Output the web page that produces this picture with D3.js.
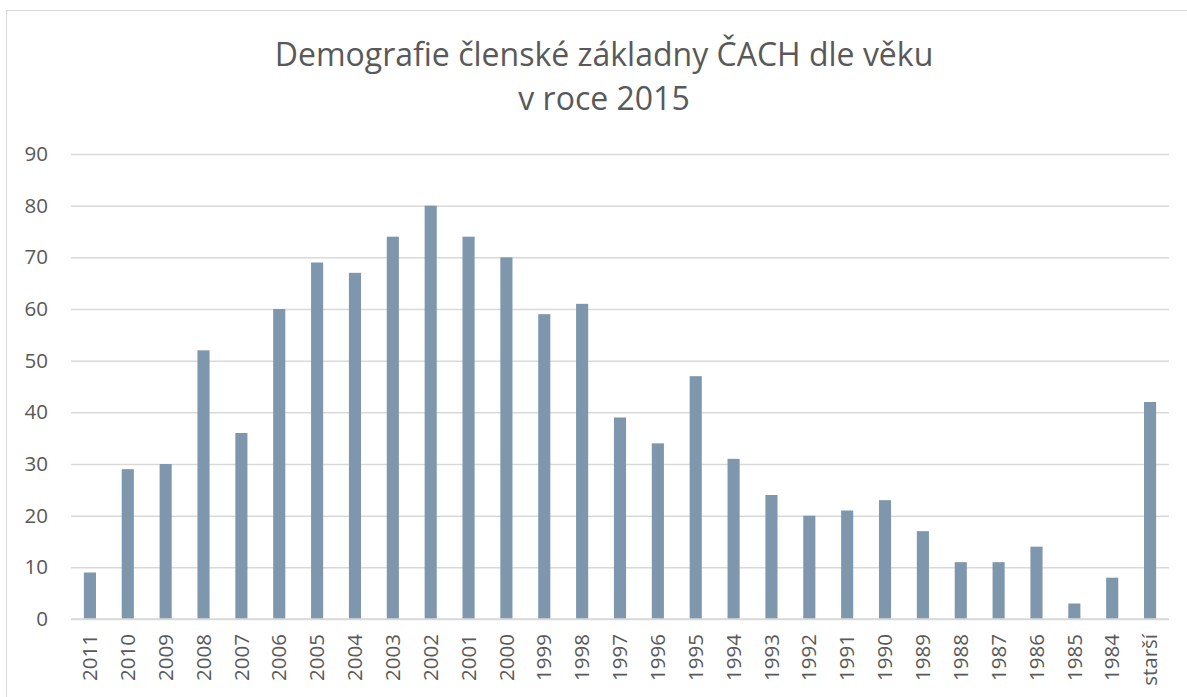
<!DOCTYPE html>
<html><head><meta charset="utf-8">
<script src="https://cdn.jsdelivr.net/npm/d3@7"></script>
<style>body{margin:0;background:#fff;}svg{display:block;}</style>
</head><body>
<script>
const categories = ["2011","2010","2009","2008","2007","2006","2005","2004","2003","2002","2001","2000","1999","1998","1997","1996","1995","1994","1993","1992","1991","1990","1989","1988","1987","1986","1985","1984","starší"];
const values = [9,29,30,52,36,60,69,67,74,80,74,70,59,61,39,34,47,31,24,20,21,23,17,11,11,14,3,8,42];
const yTicks = [0,10,20,30,40,50,60,70,80,90];
const titleLines = ["Demografie členské základny ČACH dle věku","v roce 2015"];

const W = 1187, H = 697;
const svg = d3.select("body").append("svg").attr("width", W).attr("height", H);
const font = "'Open Sans', sans-serif";
svg.append("rect").attr("x", 6.5).attr("y", 10.5).attr("width", W + 10).attr("height", H + 10)
  .attr("fill", "#fff").attr("stroke", "#d9d9d9");

const pLeft = 71, pRight = 1169, pTop = 154, pBottom = 619;
const x = d3.scaleBand().domain(categories).range([pLeft, pRight]).paddingInner(0.68).paddingOuter(0.34);
const y = d3.scaleLinear().domain([0, 90]).range([pBottom, pTop]);

// title
svg.append("text").attr("text-anchor", "middle")
  .attr("font-family", font).attr("font-size", 32).attr("fill", "#595959")
  .selectAll("tspan").data(titleLines).join("tspan")
  .attr("x", 604).attr("y", (d, i) => 66 + i * 44).text(d => d);

// grid
const yAxis = d3.axisLeft(y).tickValues(yTicks).tickSize(-(pRight - pLeft)).tickPadding(23);
const gy = svg.append("g").attr("transform", `translate(${pLeft},0)`).call(yAxis);
gy.select(".domain").remove();
gy.selectAll(".tick line").attr("stroke", "#d9d9d9").attr("stroke-width", 1.5);
gy.selectAll(".tick text").attr("font-family", font).attr("font-size", 20.5).attr("fill", "#595959");

// bars
svg.append("g").selectAll("rect").data(values).join("rect")
  .attr("x", (d, i) => x(categories[i]))
  .attr("width", x.bandwidth())
  .attr("y", d => y(d))
  .attr("height", d => y(0) - y(d))
  .attr("fill", "#7f97ad");

// baseline
svg.append("line").attr("x1", pLeft).attr("x2", pRight).attr("y1", y(0)).attr("y2", y(0))
  .attr("stroke", "#d9d9d9").attr("stroke-width", 1.5);

// x labels
const xAxis = d3.axisBottom(x).tickSize(0).tickPadding(0);
const gx = svg.append("g").attr("transform", `translate(0,${pBottom})`).call(xAxis);
gx.select(".domain").remove();
gx.selectAll(".tick text")
  .attr("font-family", font).attr("font-size", 20.5).attr("fill", "#595959")
  .attr("text-anchor", "end").attr("dy", "0.35em")
  .attr("transform", "translate(0,15) rotate(-90)");
</script>
</body></html>
